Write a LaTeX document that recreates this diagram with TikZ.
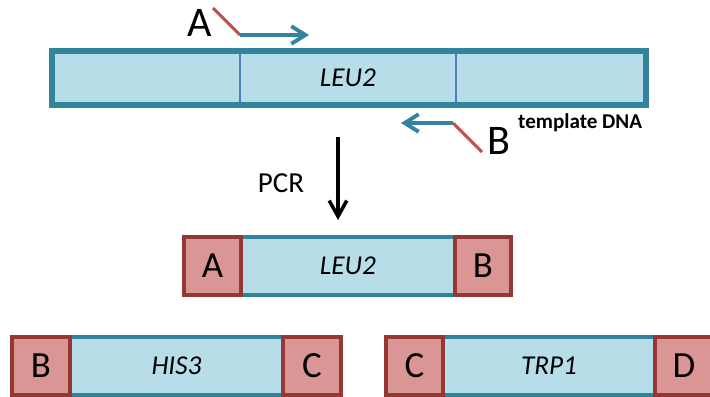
\documentclass[tikz,border=0pt]{standalone}
\usepackage{fontspec}
\setmainfont{Carlito}
\usepackage{xcolor}
\usetikzlibrary{arrows.meta, positioning}
\definecolor{genefill}{HTML}{B7DDE8}
\definecolor{geneedge}{HTML}{31849B}
\definecolor{divline}{HTML}{4F81BD}
\definecolor{tagfill}{HTML}{D99694}
\definecolor{tagedge}{HTML}{953735}
\definecolor{primred}{HTML}{C0504D}
\tikzstyle{seg} = [rectangle, fill=genefill, draw=divline, line width=1.2pt, minimum height=1.08cm, inner sep=0pt, outer sep=0pt, font=\fontsize{15.5}{18}\selectfont\itshape]
\tikzstyle{gene} = [rectangle, fill=genefill, draw=geneedge, line width=2.6pt, minimum height=1.16cm, inner sep=0pt, outer sep=0pt, font=\fontsize{15.5}{18}\selectfont\itshape]
\tikzstyle{tag} = [rectangle, fill=tagfill, draw=tagedge, line width=2.6pt, minimum height=1.16cm, minimum width=1.14cm, inner sep=0pt, outer sep=0pt, font=\fontsize{21}{24}\selectfont]
\tikzstyle{frame} = [draw=geneedge, line width=3.2pt]
\tikzstyle{primer} = [font=\fontsize{24}{28}\selectfont, inner sep=0pt]
\tikzstyle{tail} = [draw=primred, line width=1.8pt]
\tikzstyle{fwd} = [draw=geneedge, line width=2.2pt, -{Straight Barb[length=8pt,width=10pt]}]

\begin{document}
\begin{tikzpicture}[x=0.02cm, y=-0.02cm]
    \useasboundingbox (0,0) rectangle (710,396);

    % Template
    \node [seg, minimum width=3.76cm, anchor=north west] (left) at (52,51) {};
    \node [seg, minimum width=4.32cm, right=0pt of left] (leu) {LEU2};
    \node [seg, minimum width=3.80cm, right=0pt of leu] (right) {};
    \draw [frame] (left.north west) rectangle (right.south east);
    \node [font=\fontsize{12}{14}\selectfont\bfseries, anchor=west] (tmpl) at (512,123) {template DNA};

    % Primers
    \node [primer] (pa) at (200,23) {A};
    \coordinate (pa1) at (213,8);
    \coordinate (pa2) at (240,35);
    \coordinate (pa3) at (309,35);
    \draw [tail] (pa1) -- (pa2);
    \draw [fwd] (pa2) -- (pa3);

    \node [primer] (pb) at (499,141) {B};
    \coordinate (pb1) at (482,152);
    \coordinate (pb2) at (453,123);
    \coordinate (pb3) at (401,123);
    \draw [tail] (pb1) -- (pb2);
    \draw [fwd] (pb2) -- (pb3);

    % PCR
    \node [font=\fontsize{16.5}{20}\selectfont] (pcr) at (281,183) {PCR};
    \coordinate (pcr1) at (338,137);
    \coordinate (pcr2) at (338,220);
    \draw [line width=2pt, -{Straight Barb[length=9pt,width=10pt]}] (pcr1) -- (pcr2);

    % Product
    \node [gene, minimum width=4.28cm, anchor=north west] (leuB) at (241,237) {LEU2};
    \node [tag, left=0pt of leuB] (tagA) {A};
    \node [tag, minimum width=1.12cm, right=0pt of leuB] (tagB) {B};

    % Other markers
    \node [gene, minimum width=4.26cm, anchor=north west] (his) at (70,337) {HIS3};
    \node [tag, minimum width=1.16cm, left=0pt of his] (tagB2) {B};
    \node [tag, minimum width=1.16cm, right=0pt of his] (tagC) {C};
    \node [gene, minimum width=4.24cm, anchor=north west] (trp) at (443,337) {TRP1};
    \node [tag, left=0pt of trp] (tagC2) {C};
    \node [tag, minimum width=1.16cm, right=0pt of trp] (tagD) {D};

\end{tikzpicture}
\end{document}
